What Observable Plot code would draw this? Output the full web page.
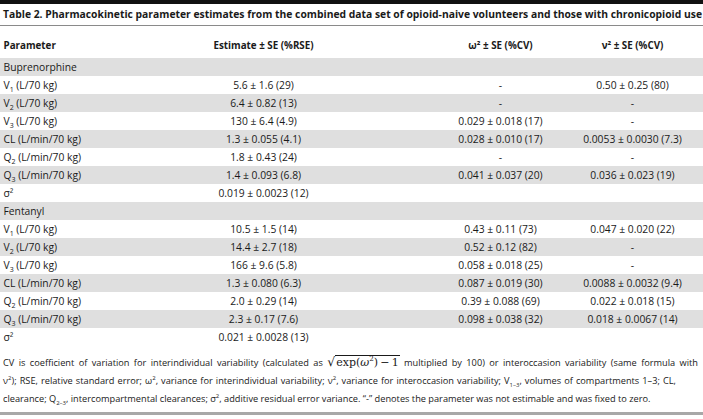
<!DOCTYPE html>
<html><head><meta charset="utf-8">
<script src="https://cdn.jsdelivr.net/npm/d3@7"></script>
<script src="https://cdn.jsdelivr.net/npm/@observablehq/plot@0.6"></script>
<style>
body{margin:0;background:#fff;}
#wrap{width:703px;height:419px;position:relative;overflow:hidden;font-family:"Open Sans",sans-serif;color:#1a1a1a;}
#topbar{position:absolute;left:0;top:0;width:703px;height:4px;background:#111;}
#title{position:absolute;left:3px;top:6px;font-weight:700;font-size:10.2px;line-height:16px;white-space:nowrap;}
#rule1{position:absolute;left:0;top:25px;width:703px;border-top:1.5px solid #8a8a8a;}
#chart{position:absolute;left:0;top:28px;}
.nl{position:absolute;left:3px;font-size:9.8px;line-height:16px;white-space:nowrap;}
.nl sup,.nl sub{font-size:65%;line-height:0;}
.rad{font-family:"DejaVu Serif","Liberation Serif",serif;font-size:11px;border-top:1px solid #1a1a1a;padding:0 1px;word-spacing:0;}
.sq{font-family:"DejaVu Serif",serif;font-size:12.5px;}
#rule2{position:absolute;left:0;top:412px;width:703px;border-top:3px solid #a8a8a8;}
</style>
</head><body>
<div id="wrap">
  <div id="topbar"></div>
  <div id="title">Table 2. Pharmacokinetic parameter estimates from the combined data set of opioid-naive volunteers and those with chronicopioid use</div>
  <div id="rule1"></div>
  <div id="chart"></div>
  <div class="nl" id="n1" style="top:354px">CV is coefficient of variation for interindividual variability (calculated as <span class="sq">√</span><span class="rad">exp(<i>ω</i><sup>2</sup>)&#8239;−&#8239;1</span> multiplied by 100) or interoccasion variability (same formula with</div>
  <div class="nl" id="n2" style="top:373px">ν<sup>2</sup>); RSE, relative standard error; ω<sup>2</sup>, variance for interindividual variability; ν<sup>2</sup>, variance for interoccasion variability; V<sub>1–3</sub>, volumes of compartments 1–3; CL,</div>
  <div class="nl" id="n3" style="top:391px">clearance; Q<sub>2–3</sub>, intercompartmental clearances; σ<sup>2</sup>, additive residual error variance. “-” denotes the parameter was not estimable and was fixed to zero.</div>
  <div id="rule2"></div>
</div>
<script>
// ---- data ----
const columnHeaders = ["Parameter", "Estimate ± SE (%RSE)", "ω² ± SE (%CV)", "ν² ± SE (%CV)"];
const drugs = ["Buprenorphine", "Fentanyl"];
const parameters = ["V1 (L/70 kg)", "V2 (L/70 kg)", "V3 (L/70 kg)", "CL (L/min/70 kg)", "Q2 (L/min/70 kg)", "Q3 (L/min/70 kg)", "σ²"];
const buprenorphineEstimate = ["5.6 ± 1.6 (29)", "6.4 ± 0.82 (13)", "130 ± 6.4 (4.9)", "1.3 ± 0.055 (4.1)", "1.8 ± 0.43 (24)", "1.4 ± 0.093 (6.8)", "0.019 ± 0.0023 (12)"];
const buprenorphineOmega = ["-", "-", "0.029 ± 0.018 (17)", "0.028 ± 0.010 (17)", "-", "0.041 ± 0.037 (20)", ""];
const buprenorphineNu = ["0.50 ± 0.25 (80)", "-", "-", "0.0053 ± 0.0030 (7.3)", "-", "0.036 ± 0.023 (19)", ""];
const fentanylEstimate = ["10.5 ± 1.5 (14)", "14.4 ± 2.7 (18)", "166 ± 9.6 (5.8)", "1.3 ± 0.080 (6.3)", "2.0 ± 0.29 (14)", "2.3 ± 0.17 (7.6)", "0.021 ± 0.0028 (13)"];
const fentanylOmega = ["0.43 ± 0.11 (73)", "0.52 ± 0.12 (82)", "0.058 ± 0.018 (25)", "0.087 ± 0.019 (30)", "0.39 ± 0.088 (69)", "0.098 ± 0.038 (32)", ""];
const fentanylNu = ["0.047 ± 0.020 (22)", "-", "-", "0.0088 ± 0.0032 (9.4)", "0.022 ± 0.018 (15)", "0.018 ± 0.0067 (14)", ""];

// ---- layout ----
const W = 703, H = 323;
const colKeys = ["param", "est", "omega", "nu"];
const colX = {param: 3, est: 263, omega: 500, nu: 632};
const step = 18.3, firstCenter = 37;

const estimates = [buprenorphineEstimate, fentanylEstimate];
const omegas = [buprenorphineOmega, fentanylOmega];
const nus = [buprenorphineNu, fentanylNu];

const rows = [];
drugs.forEach((drug, d) => {
  rows.push({param: drug});
  parameters.forEach((p, i) => rows.push({param: p, est: estimates[d][i], omega: omegas[d][i], nu: nus[d][i]}));
});
rows.forEach((r, i) => r.row = "r" + i);
const yDomain = ["h", ...rows.map(r => r.row)];
const y0 = firstCenter - step - step / 2;

const cells = [];
rows.forEach(r => colKeys.forEach(c => { if (r[c]) cells.push({row: r.row, col: c, text: r[c]}); }));
const headers = columnHeaders.map((t, i) => ({row: "h", col: colKeys[i], text: t}));
const bands = rows.filter((r, i) => i % 2 === 0);
const isParam = d => d.col === "param";
const xOf = d => colX[d.col];

const plot = Plot.plot({
  width: W, height: H,
  margin: 0,
  x: {type: "linear", domain: [0, W], range: [0, W], axis: null},
  y: {type: "band", domain: yDomain, range: [y0, y0 + step * yDomain.length], padding: 0, axis: null},
  style: {fontFamily: "'Open Sans', sans-serif", fontSize: "10.3px", color: "#1a1a1a", background: "transparent"},
  marks: [
    Plot.cell(bands, {y: "row", fill: "#dfdfdf"}),
    Plot.text(headers.filter(isParam), {x: xOf, y: "row", text: "text", fontWeight: "bold", fontSize: 9.8, dy: -4, textAnchor: "start"}),
    Plot.text(headers.filter(d => !isParam(d)), {x: xOf, y: "row", text: "text", fontWeight: "bold", fontSize: 9.8, dy: -4, textAnchor: "middle"}),
    Plot.text(cells.filter(isParam), {x: xOf, y: "row", text: "text", textAnchor: "start"}),
    Plot.text(cells.filter(d => !isParam(d)), {x: xOf, y: "row", text: "text", textAnchor: "middle"})
  ]
});
document.getElementById("chart").appendChild(plot);

// subscripts in parameter labels (V1 -> V with subscript 1, etc.)
d3.select(plot).selectAll("text").each(function () {
  const t = this.textContent;
  const m = t.match(/^([VQ])(\d)( .*)$/);
  if (!m) return;
  const s = d3.select(this);
  s.text(null);
  s.append("tspan").text(m[1]);
  s.append("tspan").attr("font-size", "7px").attr("dy", "3").text(m[2]);
  s.append("tspan").attr("dy", "-3").text(m[3]);
});

// fit the title and the caption lines to the reference widths
function fitFont(el, target) {
  const fs = parseFloat(getComputedStyle(el).fontSize);
  const w = el.getBoundingClientRect().width;
  el.style.fontSize = (fs * target / w).toFixed(2) + "px";
}
function justify(el, target) {
  const w = el.getBoundingClientRect().width;
  const spaces = (el.textContent.match(/ /g) || []).length;
  el.style.wordSpacing = ((target - w) / spaces).toFixed(3) + "px";
}
fitFont(document.getElementById("title"), 699);
const n2 = document.getElementById("n2");
fitFont(n2, 660);
const noteSize = getComputedStyle(n2).fontSize;
["n1", "n3"].forEach(id => document.getElementById(id).style.fontSize = noteSize);
justify(document.getElementById("n1"), 695);
justify(n2, 673);
</script>
</body></html>
